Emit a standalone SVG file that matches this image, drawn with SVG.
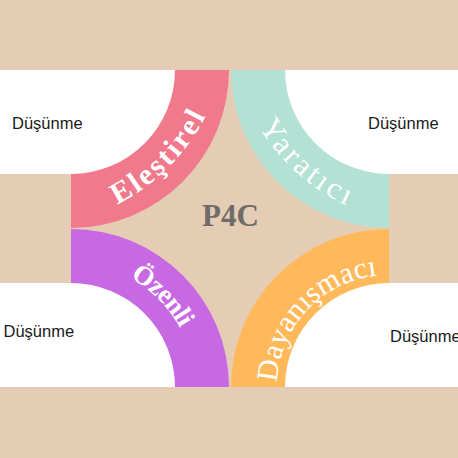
<svg xmlns="http://www.w3.org/2000/svg" width="458" height="458" viewBox="0 0 458 458">
<style>
.panel{fill:#FFFFFF}
.lbl{font-family:"Liberation Sans",Arial,sans-serif;font-size:16.5px;fill:#1A1A1A}
.arcA{font-family:"Liberation Serif","Times New Roman",serif;font-weight:bold;fill:#FFFFFF}
.arcB{font-family:"Liberation Serif","Times New Roman",serif;font-weight:normal;fill:#FFFFFF}
.title{font-family:"Liberation Serif","Times New Roman",serif;font-weight:bold;font-size:31px;fill:#6E6B68}
</style>
<defs>
<path id="pE" d="M78.8,219.2 A200,200 0 0 0 220.2,77.8"/>
<path id="pY" d="M240.3,85.8 A200,200 0 0 0 388.9,219.6"/>
<path id="pO" d="M71,263 A124,124 0 0 1 195,387"/>
<path id="pD" d="M277,387 A112,112 0 0 1 389,275"/>
</defs>
<rect x="0" y="0" width="458" height="458" fill="#E4CDB4"/>
<g id="panel-tl"><rect class="panel" x="0" y="70" width="175" height="104"/><text class="lbl" x="12" y="129">Düşünme</text></g>
<g id="panel-tr"><rect class="panel" x="285" y="70" width="173" height="104"/><text class="lbl" x="368" y="129">Düşünme</text></g>
<g id="panel-bl"><rect class="panel" x="0" y="283" width="175" height="104"/><text class="lbl" x="3.5" y="337">Düşünme</text></g>
<g id="panel-br"><rect class="panel" x="285" y="283" width="173" height="104"/><text class="lbl" x="390" y="342">Düşünme</text></g>
<g id="arc-elestirel">
<path d="M71,228 A158,158 0 0 0 229,70 L175,70 A104,104 0 0 1 71,174 Z" fill="#F07A8C"/>
<text class="arcA" font-size="30"><textPath href="#pE" startOffset="50%" text-anchor="middle" textLength="127" lengthAdjust="spacing">Eleştirel</textPath></text>
</g>
<g id="arc-yaratici">
<path d="M231,70 A158,158 0 0 0 389,228 L389,174 A104,104 0 0 1 285,70 Z" fill="#B3E1D4"/>
<text class="arcB" font-size="31"><textPath href="#pY" startOffset="50%" text-anchor="middle" textLength="120" lengthAdjust="spacing">Yaratıcı</textPath></text>
</g>
<g id="arc-ozenli">
<path d="M71,229 A158,158 0 0 1 229,387 L175,387 A104,104 0 0 0 71,283 Z" fill="#C869E4"/>
<text class="arcA" font-size="27"><textPath href="#pO" startOffset="50%" text-anchor="middle" textLength="72" lengthAdjust="spacing">Özenli</textPath></text>
</g>
<g id="arc-dayanismaci">
<path d="M231,387 A158,158 0 0 1 389,229 L389,283 A104,104 0 0 0 285,387 Z" fill="#FFB95B"/>
<text class="arcB" font-size="30"><textPath href="#pD" startOffset="48%" text-anchor="middle" textLength="159" lengthAdjust="spacing">Dayanışmacı</textPath></text>
</g>
<g id="center-p4c"><text class="title" x="230.5" y="226" text-anchor="middle">P4C</text></g>
</svg>
